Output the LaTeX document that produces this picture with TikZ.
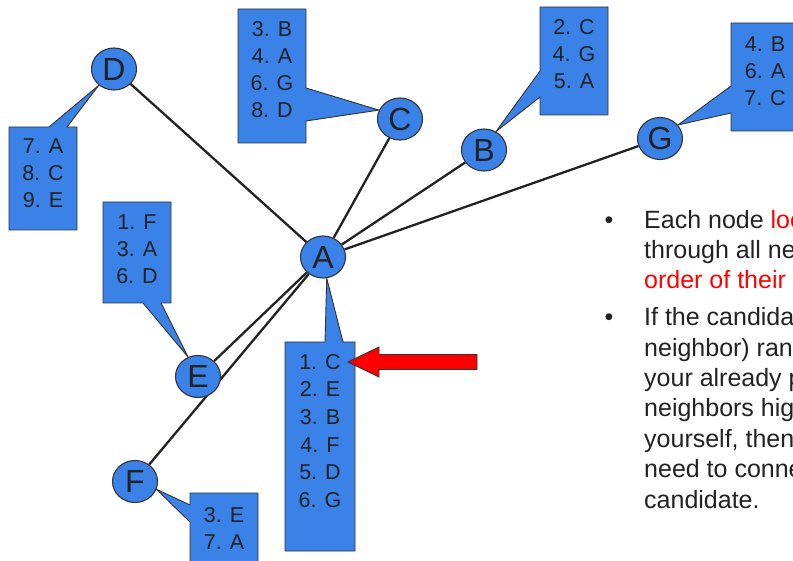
\documentclass[tikz,border=0pt]{standalone}
\usepackage{fontspec}
\setmainfont{Liberation Sans}
\usetikzlibrary{shapes.geometric,backgrounds}
\definecolor{nodeblue}{RGB}{58,130,232}
\definecolor{ink}{RGB}{34,34,34}
\definecolor{edgeline}{RGB}{51,51,51}
\begin{document}
\begin{tikzpicture}[x=1pt,y=-1pt,
  vertex/.style={ellipse, draw=edgeline, line width=1.1pt, fill=nodeblue,
    minimum width=45pt, minimum height=42pt, inner sep=0pt,
    font=\fontsize{32}{32}\selectfont, text=ink},
  callout/.style={draw=edgeline, line width=0.9pt, fill=nodeblue},
  edge/.style={draw=ink, line width=2.3pt},
  listtxt/.style={anchor=base, inner sep=0pt, font=\fontsize{21.5}{26}\selectfont, text=ink},
  bodytxt/.style={anchor=base west, inner sep=0pt, font=\fontsize{25}{30}\selectfont, text=ink},
  bullettxt/.style={anchor=base, inner sep=0pt, font=\fontsize{25}{30}\selectfont, text=ink},
  redarrow/.style={draw=edgeline, line width=0.9pt, fill=red}
]
\useasboundingbox (0,0) rectangle (793,561);
\clip (0,0) rectangle (793,561);

% vertices
\node[vertex] (D) at (114,69) {D};
\node[vertex] (C) at (400,119) {C};
\node[vertex] (B) at (484,150) {B};
\node[vertex] (G) at (660,138.5) {G};
\node[vertex] (A) at (323,257) {A};
\node[vertex] (E) at (198,376.5) {E};
\node[vertex] (F) at (135,481.5) {F};

\begin{scope}[on background layer]
\clip (0,0) rectangle (793,561);
% callouts
\coordinate (Dtip) at (D.227);
\coordinate (Ctip) at (C.157);
\coordinate (Btip) at (B.57);
\coordinate (Gtip) at (G.37);
\coordinate (Etip) at (E.117);
\coordinate (Atip) at (A.280);
\coordinate (Ftip) at (F.340);
\path[callout] (9,127) -- (49,127) -- (Dtip) -- (67,127) -- (77,127) -- (77,230) -- (9,230) -- cycle;
\path[callout] (238,9) -- (306,9) -- (306,88) -- (Ctip) -- (306,121) -- (306,143) -- (238,143) -- cycle;
\path[callout] (540,7) -- (608,7) -- (608,115) -- (540,115) -- (540,97) -- (Btip) -- (540,71) -- cycle;
\path[callout] (731,23) -- (799,23) -- (799,131) -- (731,131) -- (731,113) -- (Gtip) -- (731,86) -- cycle;
\path[callout] (103,202) -- (171,202) -- (171,303) -- (161,303) -- (Etip) -- (143,303) -- (103,303) -- cycle;
\path[callout] (285,342) -- (325,342) -- (Atip) -- (343,342) -- (355,342) -- (355,551) -- (285,551) -- cycle;
\path[callout] (190,493) -- (258,493) -- (258,575) -- (190,575) -- (190,522) -- (Ftip) -- (190,505) -- cycle;
% edges
\draw[edge] (A) -- (D);
\draw[edge] (A) -- (C);
\draw[edge] (A) -- (B);
\draw[edge] (A) -- (G);
\draw[edge] (A) -- (E);
\draw[edge] (A) -- (F);
\end{scope}

% list texts
\foreach \t [count=\i] in {7. A, 8. C, 9. E}
  \node[listtxt] (Dl\i) at (43,{154+27*(\i-1)}) {\t};
\foreach \t [count=\i] in {3. B, 4. A, 6. G, 8. D}
  \node[listtxt] (Cl\i) at (272,{37+27*(\i-1)}) {\t};
\foreach \t [count=\i] in {2. C, 4. G, 5. A}
  \node[listtxt] (Bl\i) at (574,{35+27*(\i-1)}) {\t};
\foreach \t [count=\i] in {4. B, 6. A, 7. C}
  \node[listtxt] (Gl\i) at (765,{52+27*(\i-1)}) {\t};
\foreach \t [count=\i] in {1. F, 3. A, 6. D}
  \node[listtxt] (El\i) at (137,{230+27*(\i-1)}) {\t};
\foreach \t [count=\i] in {1. C, 2. E, 3. B, 4. F, 5. D, 6. G}
  \node[listtxt] (Al\i) at (320,{369.5+27.5*(\i-1)}) {\t};
\foreach \t [count=\i] in {3. E, 7. A}
  \node[listtxt] (Fl\i) at (224,{522+27*(\i-1)}) {\t};

% red arrow
\coordinate (arrowtip) at (348,362);
\path[redarrow] (477,354.5) -- (379,354.5) -- (379,347) -- (arrowtip) -- (379,377) -- (379,369.5) -- (477,369.5) -- cycle;

% bullet text
\node[bullettxt] (b1) at (609,229) {•};
\node[bullettxt] (b2) at (609,326) {•};
\node[bodytxt] (t1) at (644,229) {Each node \textcolor{red}{looks}};
\node[bodytxt] (t2) at (644,259) {through all neighbors in the};
\node[bodytxt] (t3) at (644,289) {\textcolor{red}{order of their rank}};
\node[bodytxt] (t4) at (644,326) {If the candidate (the};
\node[bodytxt] (t5) at (644,356.3) {neighbor) ranks lower than};
\node[bodytxt] (t6) at (644,386.6) {your already picked};
\node[bodytxt] (t7) at (644,417) {neighbors higher than};
\node[bodytxt] (t8) at (644,447) {yourself, then you};
\node[bodytxt] (t9) at (644,477.5) {need to connect to the};
\node[bodytxt] (t10) at (644,508) {candidate.};
\end{tikzpicture}
\end{document}
